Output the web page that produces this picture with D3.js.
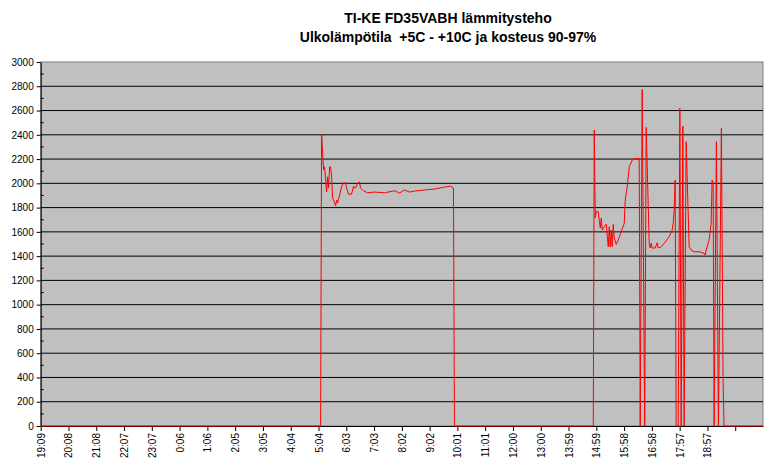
<!DOCTYPE html>
<html>
<head>
<meta charset="utf-8">
<script src="https://cdn.jsdelivr.net/npm/d3@7"></script>
<style>
  body { margin: 0; background: #fff; }
  text { font-family: Arial, "Liberation Sans", sans-serif; }
</style>
</head>
<body>
<div id="graf"></div>
<script>
// Title lines
const titleLines = [
  "TI-KE FD35VABH lämmitysteho",
  "Ulkolämpötila  +5C - +10C ja kosteus 90-97%"
];

// Category labels on the x axis, one every 59.5 minutes from 19:09
const tickLabels = ["19:09", "20:08", "21:08", "22:07", "23:07", "0:06", "1:06", "2:05",
  "3:05", "4:04", "5:04", "6:03", "7:03", "8:02", "9:02", "10:01", "11:01", "12:00",
  "13:00", "13:59", "14:59", "15:58", "16:58", "17:57", "18:57", ""];
const tickStep = 59.5;
const xEnd = 26 * tickStep;

const yTicks = [0, 200, 400, 600, 800, 1000, 1200, 1400, 1600, 1800, 2000, 2200, 2400, 2600, 2800, 3000];

// Heating power, minutes after 19:09 and watts
const minutes = [0, 599.5, 601.6, 605.9, 608.0, 612.3, 614.5, 616.6, 618.8, 620.9, 623.0,
  625.2, 627.3, 631.6, 633.7, 635.9, 640.2, 644.4, 648.7, 653.0, 655.1, 659.4, 665.8,
  670.1, 672.2, 674.4, 678.6, 682.9, 685.0, 691.5, 700.0, 715.0, 736.4, 757.8, 768.5,
  779.2, 789.9, 800.6, 822.0, 843.4, 864.8, 877.6, 884.0, 886.2,
  1183.5, 1185.6, 1187.8, 1189.9, 1194.2, 1196.3, 1198.5, 1200.6, 1202.7, 1207.0, 1211.3,
  1215.6, 1217.7, 1219.8, 1222.0, 1224.1, 1226.2, 1228.4, 1232.7, 1237.0, 1243.4, 1249.8,
  1251.9, 1256.2, 1260.5, 1266.9, 1273.3, 1281.9, 1284.0, 1288.3, 1293.6, 1296.8, 1303.3,
  1305.4, 1307.5, 1309.7, 1316.1, 1320.4, 1322.5, 1328.9, 1335.3, 1346.0, 1352.5, 1354.6,
  1356.7, 1358.9, 1361.0, 1365.3, 1368.9, 1371.7, 1375.3, 1378.1, 1382.4, 1388.8, 1393.1,
  1399.5, 1410.2, 1420.9, 1423.0, 1425.2, 1431.6, 1435.9, 1438.0, 1440.2, 1442.3, 1447.2,
  1451.5, 1457.9, 1461.5, 1463.6, 1546.5];
const watts = [0, 0, 2406, 2110, 2136, 1930, 2054, 1960, 2136, 2136, 2054,
  1878, 1862, 1813, 1862, 1838, 1903, 1972, 2005, 2002, 1961, 1911, 1911,
  1977, 1961, 1961, 2002, 2010, 1961, 1939, 1922, 1928, 1922, 1939, 1920,
  1945, 1928, 1936, 1945, 1953, 1969, 1977, 1961, 0,
  0, 2439, 1714, 1766, 1766, 1697, 1631, 1714, 1615, 1642, 1664,
  1477, 1642, 1477, 1615, 1477, 1661, 1549, 1497, 1533, 1601, 1670,
  1862, 1972, 2136, 2192, 2205, 2205, 0, 2774, 0, 2461, 1507,
  1467, 1507, 1467, 1467, 1510, 1467, 1477, 1505, 1560, 1615, 1670,
  1780, 2027, 0, 0, 2618, 0, 2472, 0, 2343, 1477, 1450,
  1436, 1436, 1423, 1409, 1450, 1533, 1670, 2027, 2005, 0, 2343,
  0, 2453, 365, 0, 0];

const data = minutes.map((m, i) => ({ t: m, w: watts[i] }));

const svg = d3.select("#graf")
  .append("svg")
  .attr("width", 772)
  .attr("height", 472);

const margin = { top: 62, left: 40.7, right: 9, bottom: 46 };
const width = 772 - margin.left - margin.right;
const height = 472 - margin.top - margin.bottom;

const chart = svg.append("g")
  .attr("transform", `translate(${margin.left},${margin.top})`);

const xScale = d3.scaleLinear().domain([0, xEnd]).range([0, width]);
const yScale = d3.scaleLinear().domain([0, 3000]).range([height, 0]);

// Title
svg.append("g")
  .selectAll("text")
  .data(titleLines)
  .enter()
  .append("text")
  .attr("x", 448)
  .attr("y", (d, i) => 23 + i * 19)
  .attr("text-anchor", "middle")
  .attr("font-size", "14px")
  .attr("font-weight", "bold")
  .attr("fill", "#000")
  .style("white-space", "pre")
  .text(d => d);

// Plot area
chart.append("rect")
  .attr("width", width)
  .attr("height", height)
  .attr("fill", "#c0c0c0")
  .attr("stroke", "#808080")
  .attr("stroke-width", 1);

// Horizontal gridlines
chart.append("g")
  .selectAll("line")
  .data(yTicks.filter(d => d > 0 && d < 3000))
  .enter()
  .append("line")
  .attr("x1", 0)
  .attr("x2", width)
  .attr("y1", d => yScale(d))
  .attr("y2", d => yScale(d))
  .attr("stroke", "#000")
  .attr("stroke-width", 1);

// Minor ticks inside the y axis
chart.append("g")
  .selectAll("line")
  .data(d3.range(100, 3000, 200))
  .enter()
  .append("line")
  .attr("x1", 0)
  .attr("x2", 3)
  .attr("y1", d => yScale(d))
  .attr("y2", d => yScale(d))
  .attr("stroke", "#000");

// Y axis
const yAxis = chart.append("g")
  .call(d3.axisLeft(yScale).tickValues(yTicks).tickFormat(d3.format("d")).tickSize(4).tickSizeOuter(0));
yAxis.select(".domain").attr("stroke", "#000");
yAxis.selectAll("text")
  .attr("font-size", "10px")
  .attr("font-family", "Arial, 'Liberation Sans', sans-serif")
  .attr("fill", "#000")
  .attr("x", -7);

// X axis
const xAxis = chart.append("g")
  .attr("transform", `translate(0,${height})`)
  .call(d3.axisBottom(xScale)
    .tickValues(tickLabels.map((d, i) => i * tickStep))
    .tickFormat((d, i) => tickLabels[i])
    .tickSize(5)
    .tickSizeOuter(0));
xAxis.select(".domain").attr("stroke", "#000");
xAxis.selectAll("text")
  .attr("font-size", "10px")
  .attr("font-family", "Arial, 'Liberation Sans', sans-serif")
  .attr("fill", "#000")
  .attr("transform", "rotate(-90)")
  .attr("text-anchor", "end")
  .attr("dy", "0.35em")
  .attr("x", -7)
  .attr("y", 0);

// Power line
const line = d3.line()
  .x(d => xScale(d.t))
  .y(d => yScale(d.w));

chart.append("path")
  .datum(data)
  .attr("fill", "none")
  .attr("stroke", "#ff0000")
  .attr("stroke-width", 1)
  .attr("stroke-linejoin", "round")
  .attr("d", line);
</script>
</body>
</html>
